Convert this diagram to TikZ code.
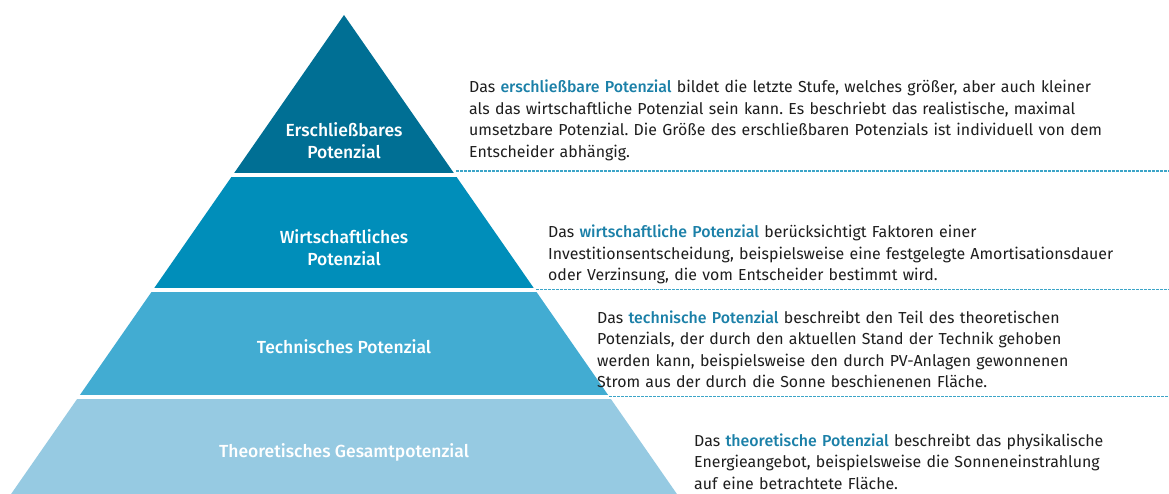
\documentclass[tikz,border=0pt]{standalone}
\usepackage{fontspec}
\setmainfont{Fira Sans}
\newfontfamily\medfont{Fira Sans Medium}
\usetikzlibrary{calc}
\definecolor{lvA}{RGB}{0,111,148}
\definecolor{lvB}{RGB}{0,142,186}
\definecolor{lvC}{RGB}{66,172,210}
\definecolor{lvD}{RGB}{150,202,226}
\definecolor{hl}{RGB}{27,128,168}
\definecolor{bodytxt}{RGB}{30,30,30}
\definecolor{dash}{RGB}{60,165,200}
\tikzset{
  lvlabel/.style={text=white, font=\medfont\fontsize{17.5}{22}\selectfont, align=center, inner sep=0pt},
  desc/.style={text=bodytxt, font=\fontsize{15.9}{21.5}\selectfont, anchor=base west, inner sep=0pt, text width=700pt, align=left},
  sep/.style={draw=dash, line width=1.2pt, dash pattern=on 2.5pt off 1.5pt},
}
\newcommand{\hlt}[1]{\textcolor{hl}{\medfont #1}}
\frenchspacing
\begin{document}
\begin{tikzpicture}[x=1pt,y=-1pt]
\useasboundingbox (0,0) rectangle (1169,494);
\fill[white] (0,0) rectangle (1169,494);
\begin{scope}
  \clip (344,15) -- (11.1,494) -- (676.9,494) -- cycle;
  \fill[lvA] (0,0) rectangle (1169,173);
  \fill[lvB] (0,177) rectangle (1169,288);
  \fill[lvC] (0,292) rectangle (1169,395);
  \fill[lvD] (0,399) rectangle (1169,500);
\end{scope}
\node[lvlabel] (l1) at (344,141) {Erschließbares\\Potenzial};
\node[lvlabel] (l2) at (344,248) {Wirtschaftliches\\Potenzial};
\node[lvlabel] (l3) at (344,347) {Technisches Potenzial};
\node[lvlabel] (l4) at (344,452) {Theoretisches Gesamtpotenzial};
\node[desc] (d1) at (469,93) {Das \hlt{erschließbare Potenzial} bildet die letzte Stufe, welches größer, aber auch kleiner\\als das wirtschaftliche Potenzial sein kann. Es beschriebt das realistische, maximal\\umsetzbare Potenzial. Die Größe des erschließbaren Potenzials ist individuell von dem\\Entscheider abhängig.};
\node[desc] (d2) at (548,238) {Das \hlt{wirtschaftliche Potenzial} berücksichtigt Faktoren einer\\Investitionsentscheidung, beispielsweise eine festgelegte Amortisationsdauer\\oder Verzinsung, die vom Entscheider bestimmt wird.};
\node[desc] (d3) at (597,323) {Das \hlt{technische Potenzial} beschreibt den Teil des theoretischen\\Potenzials, der durch den aktuellen Stand der Technik gehoben\\werden kann, beispielsweise den durch PV-Anlagen gewonnenen\\Strom aus der durch die Sonne beschienenen Fläche.};
\node[desc] (d4) at (694,446) {Das \hlt{theoretische Potenzial} beschreibt das physikalische\\Energieangebot, beispielsweise die Sonneneinstrahlung\\auf eine betrachtete Fläche.};
\draw[sep] (456,171) -- (1169,171);
\draw[sep] (536,289.5) -- (1169,289.5);
\draw[sep] (609,396.5) -- (1169,396.5);
\end{tikzpicture}
\end{document}
